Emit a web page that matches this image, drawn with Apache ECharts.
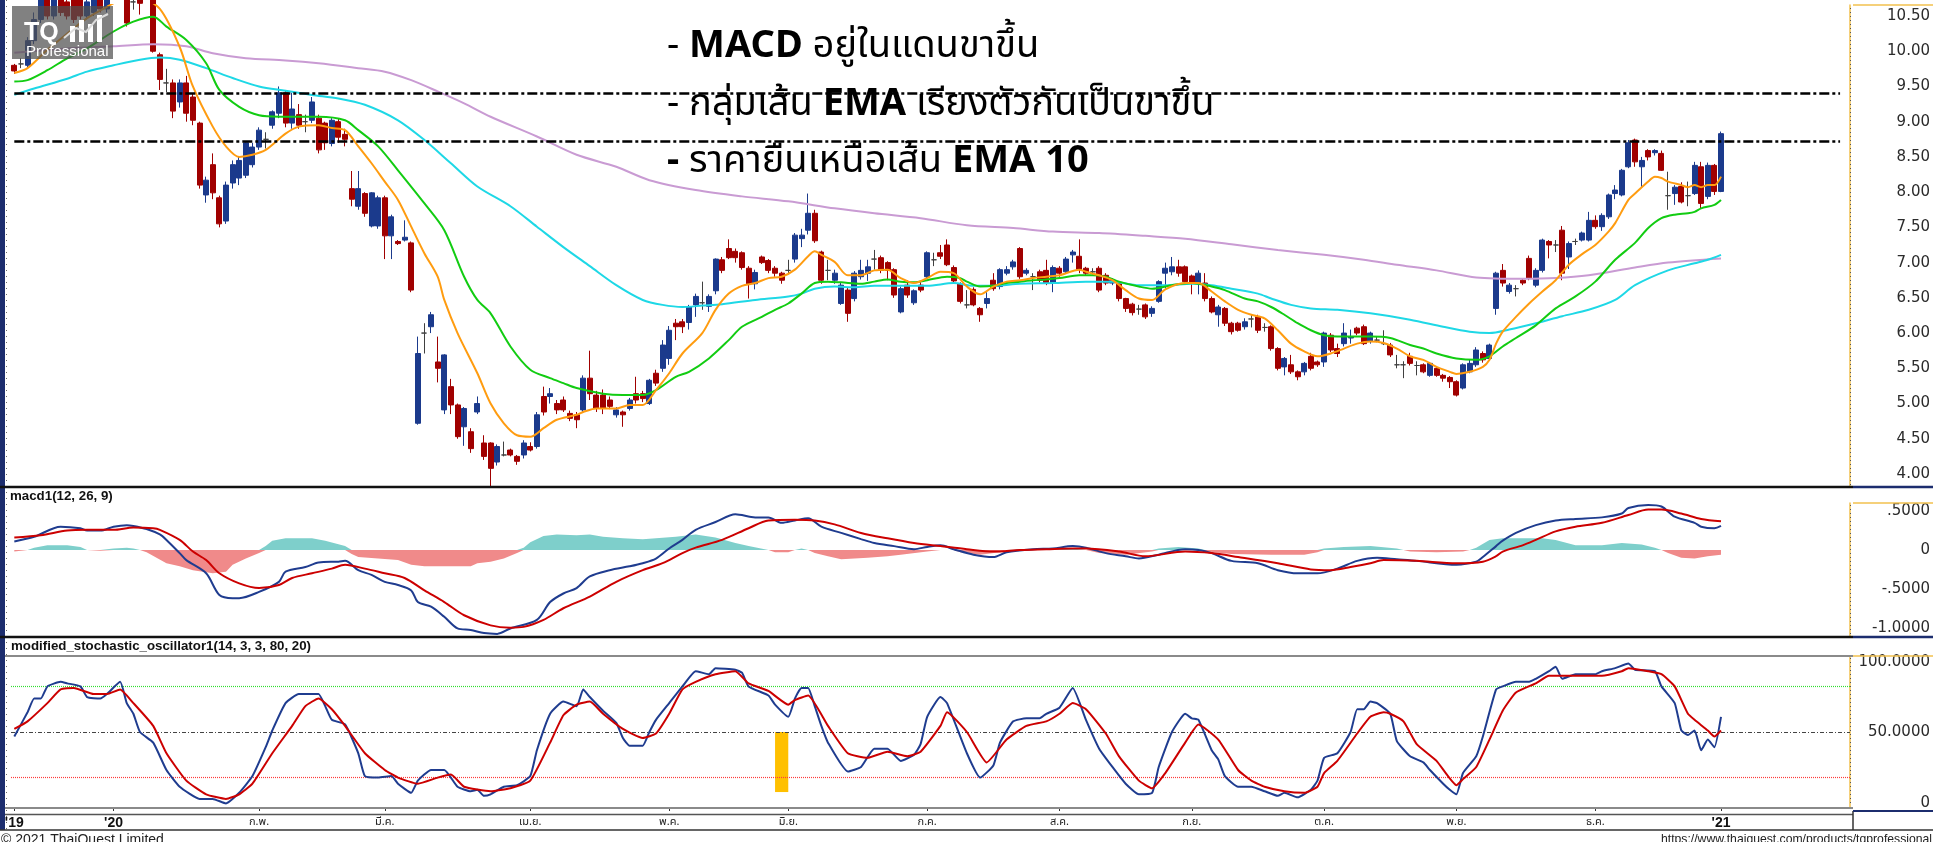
<!DOCTYPE html>
<html><head><meta charset="utf-8">
<script src="https://cdn.jsdelivr.net/npm/echarts@6/dist/echarts.min.js"></script>
<style>html,body{margin:0;padding:0;background:#fff;overflow:hidden}#c{width:1933px;height:842px}</style>
</head><body><div id="c"></div>
<script>
// ---------- DATA ----------
// candles: [open, close, low, high] per trading day (index 0 = mid Dec 2019, last = 4 Jan 2021)
const candles = [
[9.80,9.72,9.68,9.82],[9.82,9.82,9.76,9.90],[9.80,10.15,9.75,10.20],[10.15,10.45,10.10,10.55],[10.45,10.80,10.40,10.95],
[10.85,10.50,10.45,10.95],[10.50,10.90,10.45,11.00],[10.95,10.55,10.50,11.05],[10.70,10.50,10.45,10.85],[10.80,10.45,10.40,10.90],
[10.75,10.50,10.45,10.85],[10.50,10.70,10.45,10.80],[10.55,10.85,10.50,10.95],[10.90,10.60,10.55,11.00],[10.60,11.00,10.55,11.10],
[11.00,11.20,10.85,11.30],[11.20,10.95,10.80,11.30],[10.95,10.40,10.35,11.00],[10.70,10.70,10.59,10.80],[10.75,10.68,10.52,10.80],
[10.70,10.95,10.70,11.00],[10.95,10.00,9.98,11.00],[9.95,9.60,9.45,9.98],[9.55,9.55,9.42,9.75],[9.55,9.15,9.05,9.60],
[9.28,9.55,9.20,9.60],[9.55,9.12,9.00,9.65],[9.35,9.02,8.95,9.40],[8.98,8.10,8.05,9.00],[7.96,8.17,7.85,8.22],
[8.39,7.99,7.90,8.55],[7.92,7.55,7.50,7.95],[7.59,8.10,7.55,8.15],[8.13,8.39,8.05,8.45],[8.20,8.45,8.10,8.50],
[8.24,8.70,8.20,8.72],[8.39,8.64,8.35,8.70],[8.64,8.88,8.60,8.92],[8.75,8.75,8.62,8.85],[8.95,9.14,8.90,9.16],
[9.12,9.41,9.05,9.50],[9.41,8.98,8.92,9.45],[8.98,9.18,8.90,9.41],[9.10,8.95,8.90,9.25],[9.00,9.00,8.85,9.10],
[9.02,9.28,8.98,9.35],[9.05,8.60,8.55,9.10],[8.98,8.70,8.60,9.00],[8.69,9.02,8.65,9.05],[9.00,8.78,8.70,9.05],
[8.82,8.75,8.65,8.90],[8.05,7.90,7.80,8.30],[7.80,8.05,7.75,8.30],[7.98,7.70,7.65,8.00],[7.52,7.99,7.50,8.00],
[7.52,7.92,7.48,7.95],[7.92,7.38,7.05,7.95],[7.38,7.65,7.05,7.68],[7.30,7.27,7.25,7.32],[7.32,7.36,7.30,7.60],
[7.28,6.61,6.58,7.30],[4.72,5.71,4.70,5.95],[6.00,6.00,5.71,6.14],[6.09,6.26,6.00,6.30],[5.59,5.50,5.30,5.95],
[4.91,5.69,4.85,5.70],[5.24,4.98,4.85,5.35],[4.98,4.53,4.50,5.00],[4.67,4.93,4.40,4.95],[4.60,4.36,4.30,4.65],
[4.88,5.00,4.85,5.10],[4.44,4.25,4.20,4.55],[4.44,4.08,3.82,4.45],[4.17,4.39,4.12,4.42],[4.27,4.27,4.25,4.46],
[4.34,4.27,4.25,4.36],[4.25,4.18,4.13,4.27],[4.27,4.44,4.22,4.48],[4.39,4.34,4.32,4.45],[4.39,4.84,4.36,4.88],
[5.10,4.88,4.83,5.24],[5.10,5.14,5.00,5.22],[5.00,4.91,4.85,5.05],[5.05,4.91,4.88,5.10],[4.86,4.79,4.75,4.90],
[4.84,4.77,4.65,4.88],[4.91,5.36,4.88,5.40],[5.36,5.14,5.05,5.75],[5.12,4.93,4.88,5.18],[5.12,4.93,4.85,5.20],
[5.05,4.96,4.92,5.10],[4.84,4.91,4.80,4.95],[4.88,4.84,4.67,4.90],[4.93,5.05,4.90,5.08],[5.14,5.05,5.00,5.38],
[5.14,5.07,5.02,5.18],[5.00,5.33,4.98,5.35],[5.43,5.29,5.25,5.48],[5.50,5.83,5.45,5.90],[5.64,6.04,5.55,6.10],
[6.14,6.09,5.90,6.20],[6.16,6.09,6.00,6.20],[6.15,6.37,6.05,6.40],[6.40,6.52,6.23,6.56],[6.43,6.43,6.33,6.73],
[6.38,6.52,6.30,6.55],[6.60,7.05,6.55,7.06],[7.04,6.89,6.85,7.08],[7.20,7.07,7.05,7.33],[7.16,7.07,7.00,7.20],
[7.14,6.93,6.90,7.16],[6.92,6.70,6.49,6.95],[6.70,6.86,6.62,6.90],[7.08,7.00,6.98,7.10],[7.03,6.89,6.85,7.05],
[6.92,6.85,6.80,6.95],[6.85,6.75,6.70,6.87],[6.89,6.89,6.85,7.04],[7.05,7.39,7.00,7.42],[7.34,7.39,7.22,7.48],
[7.46,7.70,7.40,7.98],[7.70,7.31,7.28,7.75],[7.15,6.75,6.70,7.17],[6.89,6.89,6.75,7.04],[6.75,6.85,6.70,6.90],
[6.42,6.68,6.40,6.72],[6.61,6.28,6.16,6.64],[6.49,6.85,6.45,6.88],[6.80,6.89,6.76,7.04],[6.85,6.94,6.74,7.04],
[7.05,7.05,6.90,7.18],[7.07,6.89,6.85,7.10],[7.00,6.89,6.75,7.02],[6.90,6.54,6.50,6.92],[6.30,6.63,6.28,6.66],
[6.68,6.54,6.50,6.75],[6.43,6.60,6.40,6.62],[6.68,6.61,6.58,6.72],[6.80,7.14,6.78,7.16],[7.04,7.04,6.95,7.14],
[7.14,7.09,7.05,7.25],[7.25,6.97,6.95,7.33],[6.93,6.74,6.70,6.96],[6.70,6.45,6.42,6.72],[6.40,6.40,6.35,6.61],
[6.62,6.40,6.38,6.65],[6.35,6.26,6.16,6.37],[6.42,6.49,6.35,6.58],[6.75,6.63,6.60,6.85],[6.66,6.90,6.62,6.92],
[6.85,6.90,6.82,6.95],[6.94,7.01,6.90,7.04],[7.20,6.80,6.77,7.22],[6.85,6.89,6.82,6.92],[6.80,6.80,6.61,6.85],
[6.87,6.75,6.72,6.90],[6.89,6.71,6.68,7.04],[6.71,6.93,6.58,6.96],[6.92,6.85,6.80,6.95],[6.87,7.05,6.85,7.08],
[7.11,7.15,7.00,7.18],[7.09,6.90,6.85,7.33],[6.92,6.85,6.82,6.94],[6.87,6.87,6.83,6.92],[6.92,6.61,6.58,6.95],
[6.82,6.71,6.68,6.85],[6.71,6.75,6.68,6.78],[6.70,6.49,6.45,6.72],[6.49,6.35,6.30,6.50],[6.41,6.29,6.25,6.43],
[6.34,6.34,6.26,6.40],[6.40,6.23,6.20,6.42],[6.28,6.35,6.23,6.38],[6.45,6.73,6.43,6.75],[6.85,6.92,6.63,7.00],
[6.87,6.94,6.82,7.08],[6.94,6.85,6.80,7.04],[6.94,6.73,6.70,6.96],[6.81,6.71,6.55,6.83],[6.71,6.85,6.55,6.89],
[6.71,6.49,6.45,6.85],[6.49,6.30,6.28,6.52],[6.26,6.37,6.09,6.40],[6.35,6.14,6.10,6.37],[6.14,6.02,5.98,6.16],
[6.14,6.04,6.02,6.16],[6.09,6.16,6.05,6.21],[6.20,6.20,6.08,6.26],[6.23,6.04,6.00,6.26],[6.08,6.08,6.02,6.14],
[6.09,5.78,5.75,6.11],[5.78,5.50,5.47,5.80],[5.52,5.64,5.40,5.66],[5.55,5.45,5.42,5.69],[5.45,5.38,5.33,5.47],
[5.45,5.57,5.40,5.59],[5.67,5.50,5.47,5.72],[5.59,5.55,5.52,5.61],[5.59,6.00,5.52,6.02],[5.97,5.76,5.73,6.00],
[5.78,5.71,5.66,5.85],[5.85,6.00,5.81,6.14],[5.93,5.95,5.85,6.05],[6.07,6.00,5.97,6.09],[6.09,5.85,5.83,6.12],
[5.88,6.00,5.85,6.02],[5.90,5.90,5.87,5.95],[5.85,5.85,5.83,6.04],[5.83,5.69,5.66,5.86],[5.55,5.55,5.50,5.69],
[5.55,5.55,5.36,5.60],[5.67,5.57,5.54,5.72],[5.54,5.54,5.40,5.60],[5.55,5.45,5.43,5.57],[5.40,5.57,5.38,5.59],
[5.50,5.40,5.38,5.52],[5.40,5.36,5.31,5.42],[5.37,5.31,5.22,5.39],[5.31,5.12,5.10,5.33],[5.22,5.55,5.20,5.57],
[5.45,5.57,5.43,5.62],[5.55,5.76,5.52,5.80],[5.71,5.62,5.58,5.74],[5.64,5.83,5.62,5.85],[6.35,6.85,6.26,6.87],
[6.89,6.71,6.66,6.98],[6.59,6.68,6.56,6.71],[6.63,6.63,6.52,6.68],[6.75,6.71,6.68,6.77],[7.06,6.78,6.75,7.10],
[6.68,6.89,6.65,6.92],[6.89,7.32,6.86,7.34],[7.30,7.25,7.06,7.32],[7.25,7.25,7.15,7.32],[7.46,6.85,6.75,7.52],
[7.08,7.27,6.91,7.30],[7.30,7.30,7.25,7.34],[7.32,7.42,7.30,7.44],[7.32,7.60,7.30,7.72],[7.60,7.51,7.48,7.67],
[7.51,7.67,7.45,7.70],[7.65,7.96,7.62,7.98],[7.98,8.03,7.90,8.10],[7.96,8.31,7.94,8.33],[8.36,8.70,8.34,8.74],
[8.74,8.43,8.36,8.76],[8.36,8.45,8.07,8.50],[8.59,8.50,8.45,8.61],[8.56,8.59,8.52,8.61],[8.55,8.31,8.30,8.59],
[7.95,7.95,7.75,8.29],[7.98,8.07,7.82,8.10],[8.08,7.86,7.84,8.14],[7.95,7.95,7.80,8.15],[7.98,8.38,7.96,8.43],
[8.36,7.84,7.76,8.43],[7.94,8.38,7.90,8.42],[8.38,8.01,7.96,8.40],[8.01,8.83,8.00,8.86]
];
// moving averages, read as [barIndex, value]
const ema10 = [[0,9.69],[2,9.76],[5,10.02],[8,10.25],[11,10.47],[14,10.63],[16,10.72],[19,10.75],[22,10.60],[25,10.06],[27,9.50],[30,8.93],[32,8.65],[34,8.50],[36,8.53],[38,8.60],[41,8.83],[43,8.93],[46,8.95],[48,8.91],[50,8.88],[52,8.65],[54,8.41],[56,8.15],[58,7.89],[60,7.51],[62,7.13],[64,6.80],[65,6.47],[67,6.00],[70,5.43],[72,5.00],[74,4.72],[76,4.55],[78,4.53],[80,4.65],[82,4.77],[85,4.84],[86,4.88],[88,4.93],[91,4.93],[93,4.98],[95,4.98],[97,5.19],[99,5.43],[101,5.71],[104,6.00],[106,6.33],[108,6.56],[110,6.67],[112,6.71],[114,6.78],[116,6.80],[118,6.90],[120,7.09],[121,7.16],[122,7.11],[124,7.01],[126,6.82],[128,6.82],[130,6.89],[132,6.90],[134,6.78],[136,6.71],[138,6.78],[140,6.87],[142,6.85],[144,6.66],[146,6.55],[148,6.66],[150,6.73],[152,6.75],[154,6.78],[156,6.80],[158,6.82],[161,6.90],[162,6.87],[164,6.82],[166,6.75],[168,6.61],[170,6.49],[172,6.47],[174,6.62],[177,6.71],[179,6.71],[181,6.59],[183,6.45],[185,6.33],[187,6.26],[189,6.21],[191,6.04],[193,5.85],[195,5.74],[197,5.67],[199,5.71],[201,5.78],[203,5.85],[205,5.88],[207,5.86],[209,5.78],[211,5.67],[213,5.62],[215,5.52],[217,5.45],[218,5.42],[220,5.45],[222,5.52],[223,5.62],[224,5.85],[225,6.02],[227,6.23],[229,6.42],[231,6.59],[233,6.75],[235,6.97],[237,7.12],[239,7.25],[241,7.44],[242,7.56],[244,7.89],[245,7.98],[247,8.15],[248,8.22],[249,8.20],[250,8.15],[252,8.10],[253,8.07],[254,8.10],[255,8.07],[256,8.10],[257,8.10],[258,8.22]];
const ema25 = [[0,9.57],[2,9.59],[5,9.73],[8,9.90],[11,10.04],[15,10.28],[18,10.42],[21,10.49],[23,10.35],[26,10.16],[29,9.83],[31,9.45],[34,9.21],[37,9.09],[40,9.07],[44,9.07],[46,9.07],[50,9.02],[52,8.88],[55,8.65],[58,8.31],[62,7.84],[65,7.46],[68,6.80],[70,6.47],[72,6.28],[75,5.81],[78,5.48],[81,5.36],[83,5.29],[85,5.22],[89,5.14],[92,5.12],[95,5.12],[97,5.19],[100,5.38],[102,5.45],[105,5.64],[108,5.90],[110,6.09],[113,6.23],[115,6.33],[117,6.42],[119,6.56],[121,6.71],[123,6.73],[125,6.72],[128,6.70],[130,6.73],[132,6.76],[134,6.73],[136,6.72],[138,6.75],[141,6.80],[143,6.78],[144,6.73],[146,6.66],[148,6.67],[150,6.71],[152,6.73],[154,6.75],[156,6.76],[158,6.78],[161,6.82],[163,6.82],[165,6.80],[167,6.73],[170,6.66],[172,6.63],[175,6.68],[178,6.71],[181,6.66],[183,6.61],[186,6.49],[188,6.45],[190,6.37],[192,6.26],[194,6.14],[196,6.04],[198,5.97],[200,5.95],[203,5.95],[205,5.95],[208,5.93],[211,5.83],[213,5.78],[215,5.71],[218,5.64],[221,5.62],[223,5.67],[225,5.81],[227,5.93],[230,6.11],[233,6.35],[236,6.52],[239,6.73],[242,7.04],[245,7.28],[247,7.49],[249,7.63],[251,7.68],[253,7.70],[254,7.72],[255,7.77],[257,7.82],[258,7.89]];
const ema75 = [[0,9.38],[3,9.47],[8,9.61],[11,9.71],[15,9.80],[19,9.88],[22,9.91],[25,9.88],[29,9.76],[33,9.62],[37,9.50],[41,9.44],[45,9.38],[49,9.33],[53,9.24],[58,9.02],[62,8.74],[66,8.41],[70,8.08],[75,7.80],[79,7.51],[83,7.22],[87,6.95],[91,6.68],[95,6.47],[98,6.40],[101,6.37],[104,6.39],[107,6.41],[112,6.47],[117,6.52],[119,6.56],[121,6.63],[124,6.66],[127,6.65],[130,6.67],[134,6.67],[138,6.67],[142,6.71],[145,6.67],[148,6.67],[152,6.70],[157,6.71],[162,6.73],[166,6.73],[170,6.68],[174,6.68],[178,6.70],[181,6.68],[184,6.63],[188,6.56],[190,6.49],[193,6.40],[196,6.35],[200,6.33],[205,6.28],[211,6.19],[216,6.09],[220,6.02],[223,6.00],[226,6.05],[230,6.14],[234,6.24],[238,6.33],[242,6.47],[245,6.68],[250,6.89],[254,6.99],[256,7.04],[258,7.11]];
const ema200 = [[0,9.98],[8,10.04],[15,10.07],[21,10.10],[26,10.07],[30,9.97],[35,9.90],[41,9.87],[46,9.83],[52,9.76],[56,9.71],[60,9.59],[64,9.43],[68,9.26],[72,9.07],[79,8.79],[85,8.53],[91,8.36],[96,8.17],[103,8.03],[110,7.94],[117,7.87],[124,7.77],[130,7.70],[137,7.63],[144,7.53],[151,7.49],[157,7.44],[164,7.42],[171,7.38],[177,7.34],[184,7.26],[191,7.18],[198,7.11],[204,7.04],[209,6.97],[215,6.89],[221,6.79],[228,6.77],[233,6.78],[238,6.82],[245,6.93],[250,7.00],[258,7.06]];
// MACD(12,26,9)
const macdLine = [[0,0.11],[3,0.17],[7,0.30],[10,0.28],[11,0.25],[13,0.25],[15,0.30],[17,0.32],[18,0.31],[20,0.27],[22,0.20],[23,0.13],[25,-0.04],[26,-0.13],[29,-0.30],[31,-0.58],[33,-0.62],[34,-0.62],[37,-0.54],[40,-0.41],[41,-0.28],[44,-0.22],[46,-0.16],[49,-0.15],[50,-0.14],[52,-0.26],[54,-0.32],[56,-0.41],[58,-0.45],[60,-0.52],[61,-0.67],[63,-0.73],[65,-0.86],[67,-1.01],[69,-1.03],[71,-1.07],[73,-1.08],[75,-1.01],[79,-0.90],[81,-0.67],[83,-0.56],[85,-0.49],[87,-0.34],[90,-0.26],[93,-0.21],[95,-0.17],[97,-0.11],[99,0.02],[101,0.13],[103,0.26],[106,0.36],[109,0.46],[112,0.42],[114,0.42],[116,0.35],[118,0.38],[120,0.41],[122,0.30],[125,0.22],[128,0.14],[130,0.09],[133,0.05],[136,0.01],[138,0.04],[140,0.06],[142,0.01],[145,-0.06],[148,-0.09],[150,-0.03],[154,0.01],[157,0.02],[160,0.05],[162,0.03],[165,-0.04],[168,-0.08],[170,-0.11],[173,-0.06],[177,0.01],[179,0.00],[181,-0.04],[184,-0.14],[188,-0.17],[191,-0.26],[194,-0.30],[197,-0.30],[200,-0.24],[203,-0.14],[206,-0.10],[209,-0.12],[212,-0.14],[218,-0.19],[221,-0.15],[222,-0.09],[224,0.05],[225,0.12],[227,0.22],[230,0.32],[233,0.38],[236,0.40],[240,0.42],[243,0.47],[244,0.54],[247,0.58],[249,0.56],[251,0.43],[254,0.35],[255,0.30],[257,0.28],[258,0.31]];
const signalLine = [[0,0.16],[4,0.19],[8,0.25],[11,0.26],[15,0.26],[18,0.29],[21,0.28],[22,0.26],[25,0.13],[27,-0.02],[29,-0.13],[31,-0.30],[34,-0.43],[37,-0.49],[40,-0.45],[42,-0.36],[45,-0.30],[48,-0.24],[50,-0.19],[53,-0.24],[56,-0.30],[59,-0.36],[62,-0.52],[65,-0.67],[68,-0.84],[72,-0.97],[75,-1.00],[77,-0.99],[80,-0.90],[83,-0.75],[87,-0.60],[91,-0.41],[95,-0.26],[98,-0.17],[101,-0.04],[103,0.03],[107,0.13],[111,0.28],[114,0.38],[118,0.39],[121,0.38],[124,0.33],[128,0.22],[132,0.15],[136,0.09],[140,0.05],[144,0.01],[148,-0.02],[152,0.00],[156,0.01],[160,0.02],[162,0.02],[167,-0.02],[171,-0.08],[177,-0.02],[181,-0.04],[185,-0.09],[191,-0.17],[196,-0.25],[199,-0.26],[202,-0.22],[205,-0.17],[207,-0.13],[212,-0.14],[218,-0.17],[222,-0.15],[224,-0.08],[225,-0.02],[228,0.06],[230,0.13],[233,0.24],[236,0.30],[240,0.35],[244,0.45],[247,0.52],[249,0.52],[252,0.47],[255,0.40],[258,0.37]];
const macdHist = [[0,-0.02],[2,0.00],[3,0.03],[5,0.06],[8,0.06],[10,0.04],[11,0.00],[13,-0.01],[15,0.02],[17,0.03],[18,0.02],[19,0.00],[20,-0.03],[23,-0.17],[25,-0.21],[27,-0.26],[30,-0.30],[32,-0.28],[33,-0.19],[35,-0.11],[37,-0.04],[38,0.05],[39,0.12],[41,0.15],[45,0.15],[47,0.12],[50,0.05],[51,-0.05],[52,-0.09],[55,-0.11],[58,-0.13],[60,-0.19],[62,-0.21],[66,-0.21],[69,-0.21],[70,-0.17],[72,-0.15],[74,-0.11],[76,-0.04],[77,0.03],[78,0.10],[80,0.18],[82,0.20],[85,0.19],[87,0.20],[89,0.17],[92,0.15],[95,0.14],[97,0.15],[100,0.17],[103,0.20],[106,0.16],[109,0.09],[111,0.05],[114,0.00],[115,-0.03],[117,-0.03],[118,0.00],[119,0.02],[120,0.00],[121,-0.04],[123,-0.08],[125,-0.12],[129,-0.10],[132,-0.08],[134,-0.06],[138,-0.02],[140,0.00],[142,0.00],[143,-0.03],[146,-0.06],[149,-0.03],[150,0.00],[160,0.02],[162,0.00],[164,-0.04],[168,-0.06],[172,-0.02],[173,0.02],[176,0.04],[179,0.02],[180,-0.02],[184,-0.05],[190,-0.06],[195,-0.06],[197,-0.03],[198,0.02],[201,0.04],[205,0.05],[209,0.02],[210,0.00],[211,-0.02],[215,-0.03],[219,-0.02],[220,0.00],[221,0.03],[223,0.13],[225,0.15],[231,0.15],[233,0.13],[236,0.06],[240,0.06],[243,0.09],[246,0.07],[248,0.03],[249,0.00],[250,-0.04],[252,-0.10],[254,-0.11],[256,-0.08],[258,-0.06]];
// modified stochastic oscillator (14,3,3,80,20)
const stochK = [[0,47],[2,63],[3,72],[4,72],[5,80],[7,83],[8,82],[10,80],[11,73],[13,72],[14,75],[16,83],[17,69],[18,62],[19,50],[21,43],[23,25],[25,14],[28,6],[30,6],[32,3],[34,10],[36,21],[38,40],[39,51],[41,69],[43,75],[45,75],[46,75],[47,67],[48,58],[50,55],[52,36],[53,21],[55,20],[57,21],[58,16],[60,10],[61,18],[63,25],[65,25],[67,14],[69,11],[70,12],[71,8],[72,9],[74,14],[76,15],[78,21],[79,38],[81,62],[83,70],[85,67],[86,78],[87,73],[89,64],[91,56],[92,46],[93,41],[95,41],[96,50],[97,58],[99,69],[101,80],[103,90],[105,88],[106,92],[109,91],[110,89],[111,80],[114,74],[115,68],[117,60],[118,72],[119,79],[120,79],[121,67],[122,54],[123,43],[126,24],[128,27],[130,39],[132,39],[134,31],[136,35],[137,42],[138,60],[140,73],[141,69],[144,36],[146,20],[148,28],[149,43],[151,57],[153,59],[155,59],[156,62],[158,66],[160,79],[162,58],[164,39],[166,27],[168,16],[170,9],[172,10],[173,27],[175,50],[177,62],[178,59],[179,58],[181,38],[182,32],[183,21],[185,14],[187,14],[189,11],[191,8],[192,10],[194,7],[196,12],[197,18],[198,33],[200,36],[202,50],[203,65],[204,65],[205,70],[206,69],[208,62],[209,44],[211,34],[213,30],[214,25],[216,16],[217,12],[218,9],[219,23],[221,34],[222,47],[224,78],[225,80],[227,83],[229,83],[230,85],[232,90],[233,93],[234,85],[236,88],[239,88],[240,90],[242,92],[244,95],[245,91],[248,90],[249,80],[251,69],[252,51],[253,48],[254,51],[255,38],[256,45],[257,40],[258,60]];
const stochD = [[0,52],[2,57],[5,69],[7,78],[9,79],[12,75],[14,75],[16,78],[18,69],[21,54],[23,36],[26,18],[29,9],[32,6],[34,9],[36,16],[39,36],[42,54],[44,67],[46,72],[48,65],[50,54],[53,36],[56,25],[58,20],[61,16],[64,20],[66,22],[68,14],[72,11],[75,13],[78,18],[81,43],[83,61],[85,68],[87,70],[89,62],[92,52],[95,46],[97,49],[99,62],[101,78],[103,83],[106,88],[109,90],[111,82],[114,77],[117,68],[118,71],[120,74],[123,54],[126,36],[129,33],[132,37],[135,34],[137,37],[140,54],[141,63],[144,50],[147,30],[150,45],[153,54],[156,57],[158,62],[160,69],[162,65],[165,49],[167,34],[170,18],[172,13],[174,23],[177,43],[179,55],[182,45],[185,25],[187,18],[189,14],[192,11],[195,10],[197,14],[198,23],[200,31],[203,49],[205,60],[207,63],[208,62],[210,57],[212,42],[215,31],[218,15],[219,19],[221,27],[223,45],[225,64],[227,76],[230,82],[232,87],[234,87],[237,87],[240,87],[243,90],[244,92],[247,90],[249,88],[251,80],[253,62],[254,58],[256,51],[257,47],[258,51]];
// ticks / labels
const xTickLabels = [[0,"'19"],[15,"'20"],[37,"ก.พ."],[56,"มี.ค."],[78,"เม.ย."],[99,"พ.ค."],[117,"มิ.ย."],[138,"ก.ค."],[158,"ส.ค."],[178,"ก.ย."],[198,"ต.ค."],[218,"พ.ย."],[239,"ธ.ค."],[258,"'21"]];
const priceTicks = [4.0,4.5,5.0,5.5,6.0,6.5,7.0,7.5,8.0,8.5,9.0,9.5,10.0,10.5];
const macdTicks = [0.5,0,-0.5,-1.0];
const macdTickText = [".5000","0","-.5000","-1.0000"];
const stochTicks = [100,50,0];
const stochTickText = ["100.0000","50.0000","0"];
const priceLevels = [9.407,8.726];
const stochLevels = [80,50,20];
const highlightBars = [115,117];
const highlightRange = [50,10.5];
const annotations = [
  "{n|- }{b|MACD}{n| อยู่ในแดนขาขึ้น}",
  "{n|- กลุ่มเส้น }{b|EMA}{n| เรียงตัวกันเป็นขาขึ้น}",
  "{b|- }{n|ราคายืนเหนือเส้น }{b|EMA 10}"
];

// ---------- CHART ----------
const SLOTS = 278;
const cats = Array.from({length: SLOTS}, (_, i) => String(i));
const tickMap = {}; xTickLabels.forEach(([i, t]) => tickMap[i] = t);
const UP = '#1B3A8C', DOWN = '#A00000', DOJI = '#404040';
const AX_YEL = '#F2C14E';
const GL = 11, GW = 1842;
const labelFont = 'DejaVu Sans';

const chart = echarts.init(document.getElementById('c'), null, {renderer: 'canvas'});
const yLabelBase = {align: 'right', margin: 80, color: '#2b2b2b', fontFamily: labelFont, fontSize: 15};
const lineS = (name, data, color, xi, yi, width, smooth, z) => ({
  name, type: 'line', xAxisIndex: xi, yAxisIndex: yi, data, showSymbol: false, symbol: 'none',
  smooth, lineStyle: {color, width}, itemStyle: {color}, z: z || 3, silent: true, clip: true
});
const histPos = macdHist.map(([i, v]) => [i, Math.max(v, 0)]);
const histNeg = macdHist.map(([i, v]) => [i, Math.min(v, 0)]);
const annoFont = '"Noto Sans", "Noto Sans Thai", "Loma", "Garuda", "Norasi", sans-serif';

const option = {
  animation: false,
  backgroundColor: '#ffffff',
  textStyle: {fontFamily: 'Liberation Sans'},
  grid: [
    {left: GL, width: GW, top: 5, height: 482},
    {left: GL, width: GW, top: 503, height: 134},
    {left: GL, width: GW, top: 656, height: 152}
  ],
  xAxis: [0, 1, 2].map(g => ({
    type: 'category', gridIndex: g, data: cats, boundaryGap: true,
    axisLine: {show: false}, splitLine: {show: false},
    axisTick: g === 2 ? {show: true, alignWithLabel: true, length: 3, interval: (i) => tickMap[i] !== undefined, lineStyle: {color: '#333'}} : {show: false},
    axisLabel: g === 2 ? {
      show: true, margin: 8, interval: (i) => tickMap[i] !== undefined,
      formatter: (v, i) => { const t = tickMap[i]; if (t === undefined) return ''; return t.charAt(0) === "'" ? '{y|' + t + '}' : '{m|' + t + '}'; },
      rich: {y: {fontFamily: 'Liberation Sans', fontWeight: 'bold', fontSize: 14, color: '#111'},
             m: {fontFamily: annoFont, fontSize: 11, color: '#222'}}
    } : {show: false}
  })),
  yAxis: [
    {type: 'value', gridIndex: 0, position: 'right', min: 3.8155, max: 10.656,
     splitLine: {show: false}, axisTick: {show: false},
     axisLine: {show: true, lineStyle: {color: AX_YEL, width: 1.5}},
     axisLabel: Object.assign({customValues: priceTicks, formatter: v => v.toFixed(2)}, yLabelBase)},
    {type: 'value', gridIndex: 1, position: 'right', min: -1.1201, max: 0.6051,
     splitLine: {show: false}, axisTick: {show: false},
     axisLine: {show: true, lineStyle: {color: AX_YEL, width: 1.5}},
     axisLabel: Object.assign({customValues: macdTicks, formatter: v => { const k = macdTicks.findIndex(t => Math.abs(t - v) < 1e-6); return k >= 0 ? macdTickText[k] : ''; }}, yLabelBase)},
    {type: 'value', gridIndex: 2, position: 'right', min: 0, max: 100,
     splitLine: {show: false}, axisTick: {show: false},
     axisLine: {show: true, lineStyle: {color: AX_YEL, width: 1.5}},
     axisLabel: Object.assign({customValues: stochTicks,
       formatter: v => { const k = stochTicks.indexOf(v); const t = stochTickText[k]; return v === 100 ? '{t|' + t + '}' : (v === 0 ? '{b|' + t + '}' : '{c|' + t + '}'); },
       rich: {t: {padding: [12, 0, 0, 0], fontFamily: labelFont, fontSize: 15, color: '#2b2b2b'},
              b: {padding: [0, 0, 10, 0], fontFamily: labelFont, fontSize: 15, color: '#2b2b2b'},
              c: {fontFamily: labelFont, fontSize: 15, color: '#2b2b2b'}}}, yLabelBase)}
  ],
  series: [
    {name: 'price', type: 'candlestick', xAxisIndex: 0, yAxisIndex: 0, data: candles, barWidth: 5.5, clip: true, z: 2,
     itemStyle: {color: UP, color0: DOWN, borderColor: UP, borderColor0: DOWN, borderColorDoji: DOJI, borderWidth: 1},
     markLine: {symbol: 'none', silent: true, z: 6, label: {show: false},
       lineStyle: {color: '#000', width: 2.6, type: [10, 3, 3, 3]},
       data: priceLevels.map(lv => [{coord: [0, lv]}, {coord: [276, lv]}])}},
    lineS('EMA200', ema200, '#C99BD3', 0, 0, 2, 0.3, 3),
    lineS('EMA75', ema75, '#1ED8E6', 0, 0, 2, 0.3, 3),
    lineS('EMA25', ema25, '#12CC12', 0, 0, 2, 0.3, 4),
    lineS('EMA10', ema10, '#FF9C10', 0, 0, 2, 0.3, 5),
    {name: 'histPos', type: 'line', xAxisIndex: 1, yAxisIndex: 1, data: histPos, showSymbol: false, symbol: 'none',
     lineStyle: {width: 0}, areaStyle: {color: '#7ECFCB', opacity: 1}, z: 2, silent: true},
    {name: 'histNeg', type: 'line', xAxisIndex: 1, yAxisIndex: 1, data: histNeg, showSymbol: false, symbol: 'none',
     lineStyle: {width: 0}, areaStyle: {color: '#F08A8A', opacity: 1}, z: 2, silent: true},
    lineS('MACD', macdLine, '#1F3C8F', 1, 1, 2, 0.3, 4),
    lineS('Signal', signalLine, '#CC0000', 1, 1, 2, 0.3, 5),
    Object.assign(lineS('%K', stochK, '#1F3C8F', 2, 2, 2, 0.15, 4), {
      markLine: {symbol: 'none', silent: true, label: {show: false}, z: 1,
        data: stochLevels.map((lv, k) => ({yAxis: lv, lineStyle: k === 1 ? {color: '#444', width: 1, type: [4, 2, 1, 2]} : {color: k === 0 ? '#33DD33' : '#FF3B3B', width: 1.2, type: [1, 1]}}))},
      markArea: {silent: true, itemStyle: {color: '#FFC000', opacity: 1},
        data: [[{coord: [highlightBars[0], highlightRange[0]]}, {coord: [highlightBars[1], highlightRange[1]]}]]}
    }),
    lineS('%D', stochD, '#CC0000', 2, 2, 2, 0.15, 5)
  ],
  graphic: [
    // left frame
    {type: 'rect', z: 100, shape: {x: 0, y: 0, width: 5, height: 830}, style: {fill: '#1C2D6E'}},
    {type: 'line', z: 100, shape: {x1: 6.5, y1: 0, x2: 6.5, y2: 830}, style: {stroke: '#666', lineWidth: 1, lineDash: [1, 5]}},
    // panel separators
    {type: 'line', z: 100, shape: {x1: 0, y1: 487, x2: 1853, y2: 487}, style: {stroke: '#111', lineWidth: 2.5}},
    {type: 'line', z: 100, shape: {x1: 1853, y1: 487, x2: 1933, y2: 487}, style: {stroke: '#1C2D6E', lineWidth: 2.5}},
    {type: 'line', z: 100, shape: {x1: 0, y1: 637, x2: 1853, y2: 637}, style: {stroke: '#111', lineWidth: 2.5}},
    {type: 'line', z: 100, shape: {x1: 1853, y1: 637, x2: 1933, y2: 637}, style: {stroke: '#1C2D6E', lineWidth: 2.5}},
    {type: 'line', z: 100, shape: {x1: 5, y1: 656, x2: 1853, y2: 656}, style: {stroke: '#8a8a8a', lineWidth: 2}},
    {type: 'line', z: 100, shape: {x1: 5, y1: 808, x2: 1853, y2: 808}, style: {stroke: '#8a8a8a', lineWidth: 2}},
    {type: 'line', z: 100, shape: {x1: 5, y1: 814.5, x2: 1853, y2: 814.5}, style: {stroke: '#555', lineWidth: 1.5}},
    {type: 'line', z: 100, shape: {x1: 0, y1: 830, x2: 1933, y2: 830}, style: {stroke: '#333', lineWidth: 1.5}},
    {type: 'line', z: 100, shape: {x1: 1853, y1: 811, x2: 1853, y2: 830}, style: {stroke: '#333', lineWidth: 1.5}},
    {type: 'line', z: 100, shape: {x1: 1853, y1: 811, x2: 1933, y2: 811}, style: {stroke: '#1C2D6E', lineWidth: 2}},
    // right-axis yellow caps and rulers
    {type: 'line', z: 100, shape: {x1: 1853, y1: 5, x2: 1933, y2: 5}, style: {stroke: AX_YEL, lineWidth: 1.5}},
    {type: 'line', z: 100, shape: {x1: 1853, y1: 503, x2: 1933, y2: 503}, style: {stroke: AX_YEL, lineWidth: 1.5}},
    {type: 'line', z: 100, shape: {x1: 1853, y1: 656, x2: 1933, y2: 656}, style: {stroke: AX_YEL, lineWidth: 1.5}},
    {type: 'line', z: 100, shape: {x1: 1850.5, y1: 8, x2: 1850.5, y2: 485}, style: {stroke: '#555', lineWidth: 1, lineDash: [1, 3]}},
    {type: 'line', z: 100, shape: {x1: 1850.5, y1: 505, x2: 1850.5, y2: 635}, style: {stroke: '#555', lineWidth: 1, lineDash: [1, 3]}},
    {type: 'line', z: 100, shape: {x1: 1850.5, y1: 658, x2: 1850.5, y2: 806}, style: {stroke: '#555', lineWidth: 1, lineDash: [1, 3]}},
    // panel titles
    {type: 'text', z: 100, x: 10, y: 496, style: {text: 'macd1(12, 26, 9)', fill: '#111', font: 'bold 13.3px "Liberation Sans"', verticalAlign: 'middle'}},
    {type: 'text', z: 100, x: 11, y: 646, style: {text: 'modified_stochastic_oscillator1(14, 3, 3, 80, 20)', fill: '#111', font: 'bold 13.3px "Liberation Sans"', verticalAlign: 'middle'}},
    // footer
    {type: 'text', z: 100, x: 1, y: 833, style: {text: '© 2021 ThaiQuest Limited', fill: '#222', font: '14px "Liberation Sans"', verticalAlign: 'top'}},
    {type: 'text', z: 100, x: 1932, y: 834, style: {text: 'https://www.thaiquest.com/products/tqprofessional', fill: '#222', font: '12.2px "Liberation Sans"', align: 'right', verticalAlign: 'top'}},
    // logo
    {type: 'rect', z: 100, shape: {x: 12, y: 6, width: 101, height: 53}, style: {fill: 'rgba(80,80,80,0.72)'}},
    {type: 'text', z: 101, x: 24, y: 33, style: {text: 'TQ', fill: '#fff', font: 'bold 25px "Liberation Sans"', verticalAlign: 'middle'}},
    {type: 'rect', z: 101, shape: {x: 70, y: 26, width: 5, height: 16}, style: {fill: '#fff'}},
    {type: 'rect', z: 101, shape: {x: 79, y: 20, width: 5, height: 22}, style: {fill: '#fff'}},
    {type: 'rect', z: 101, shape: {x: 88, y: 24, width: 5, height: 18}, style: {fill: '#fff'}},
    {type: 'rect', z: 101, shape: {x: 97, y: 15, width: 5, height: 27}, style: {fill: '#fff'}},
    {type: 'polyline', z: 101, shape: {points: [[64, 38], [76, 28], [86, 32], [96, 20], [108, 14]]}, style: {stroke: '#ddd', lineWidth: 2, fill: null}},
    {type: 'text', z: 101, x: 26, y: 52, style: {text: 'Professional', fill: '#fff', font: '15px "Liberation Sans"', verticalAlign: 'middle'}},
    // annotation text
    ...annotations.map((t, k) => ({
      type: 'text', z: 110, x: 667, y: [46, 104, 161][k],
      style: {text: t, verticalAlign: 'middle', align: 'left',
        rich: {n: {fontFamily: annoFont, fontSize: 38, fontWeight: 'normal', fill: '#000'},
               b: {fontFamily: annoFont, fontSize: 38, fontWeight: 'bold', fill: '#000'}}}
    }))
  ]
};
chart.setOption(option);
</script>
</body></html>
